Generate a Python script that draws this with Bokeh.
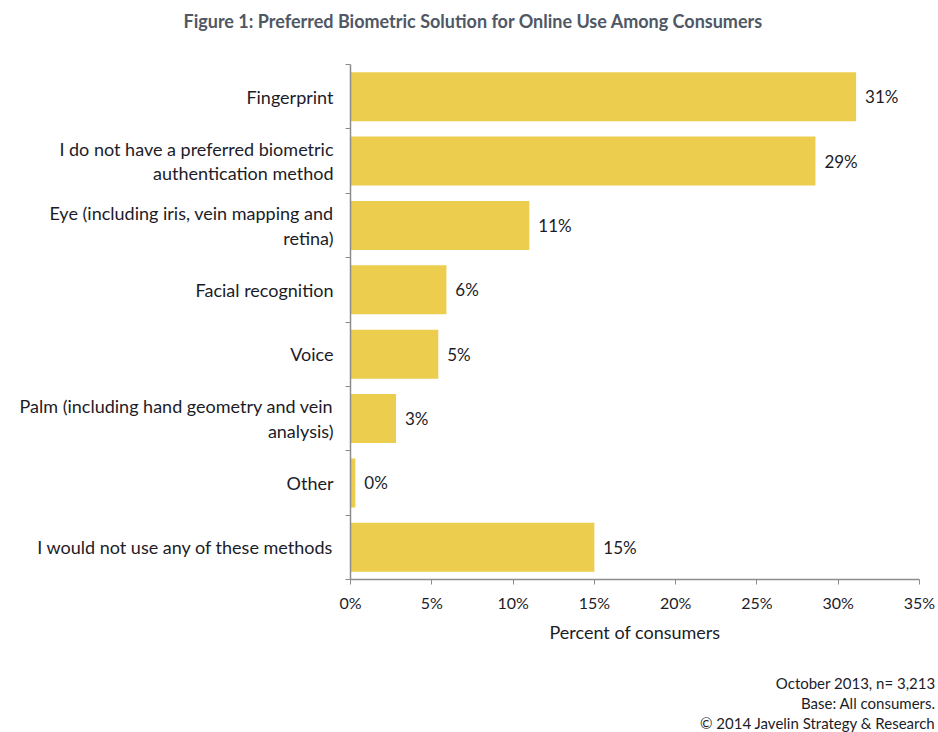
from bokeh.plotting import figure
from bokeh.layouts import column
from bokeh.models import Range1d, FixedTicker, PrintfTickFormatter, ColumnDataSource, Title
from bokeh.core.properties import value
from bokeh.embed import file_html
from bokeh.resources import INLINE

# ---------------- data ----------------
categories = [
    "Fingerprint",
    "I do not have a preferred biometric\nauthentication method",
    "Eye (including iris, vein mapping and\nretina)",
    "Facial recognition",
    "Voice",
    "Palm (including hand geometry and vein\nanalysis)",
    "Other",
    "I would not use any of these methods",
]
values = [31.1, 28.6, 11.0, 5.9, 5.4, 2.8, 0.3, 15.0]
value_labels = ["31%", "29%", "11%", "6%", "5%", "3%", "0%", "15%"]
x_ticks = [0, 5, 10, 15, 20, 25, 30, 35]

title_text = "Figure 1: Preferred Biometric Solution for Online Use Among Consumers"
x_axis_title = "Percent of consumers"
footnotes = ["October 2013, n= 3,213", "Base: All consumers.", "\u00a9 2014 Javelin Strategy & Research"]

# ---------------- layout ----------------
W = 938
TOP_H, MAIN_H, FOOT_H = 64, 583, 85
LEFT, RIGHT, MAIN_BOTTOM = 350, 19, 68
FONT = "Lato"
TXT = "#1c1c28"
BAR = "#ECCD4D"
AXC = "#8c8c8c"
XMAX = 35
N = len(categories)


def strip(height):
    f = figure(width=W, height=height, output_backend="svg", toolbar_location=None,
               x_range=Range1d(0, 1), y_range=Range1d(0, 1),
               x_axis_type=None, y_axis_type=None,
               min_border_left=LEFT, min_border_right=RIGHT,
               min_border_top=0, min_border_bottom=0)
    f.outline_line_color = None
    f.grid.visible = False
    f.background_fill_color = "white"
    f.border_fill_color = "white"
    return f


# ---- title strip ----
top = strip(TOP_H)
top.add_layout(Title(text=title_text, text_font=FONT, text_font_size="18px",
                     text_font_style="bold", text_color="#4f5864",
                     align="left", offset=-167, standoff=16,
                     vertical_align="middle"), "above")

# ---- main chart ----
p = figure(width=W, height=MAIN_H, output_backend="svg", toolbar_location=None,
           x_range=Range1d(0, XMAX), y_range=Range1d(N, 0),
           min_border_left=LEFT, min_border_right=RIGHT,
           min_border_top=0, min_border_bottom=MAIN_BOTTOM)
p.outline_line_color = None
p.xgrid.visible = False
p.ygrid.visible = False
p.background_fill_color = "white"
p.border_fill_color = "white"

ys = [i + 0.5 for i in range(N)]
src = ColumnDataSource(dict(y=ys, v=values, lab=value_labels,
                            lx=[v + 0.55 for v in values]))
p.hbar(y="y", right="v", left=0, height=0.76, source=src,
       fill_color=BAR, line_color=None)
p.text(x="lx", y="y", text="lab", source=src, text_font=value(FONT),
       text_font_size="17px", text_color=TXT, text_baseline="middle",
       text_align="left")

xa = p.xaxis[0]
xa.ticker = FixedTicker(ticks=x_ticks)
xa.formatter = PrintfTickFormatter(format="%d%%")
xa.minor_tick_line_color = None
xa.major_tick_in = 0
xa.major_tick_out = 5
xa.axis_line_color = AXC
xa.axis_line_width = 1.5
xa.major_tick_line_color = AXC
xa.major_label_text_font = FONT
xa.major_label_text_font_size = "16px"
xa.major_label_text_color = TXT
xa.major_label_standoff = 8
xa.axis_label = x_axis_title
xa.axis_label_text_font = FONT
xa.axis_label_text_font_size = "18px"
xa.axis_label_text_font_style = "normal"
xa.axis_label_text_color = TXT
xa.axis_label_standoff = 6

ya = p.yaxis[0]
ya.ticker = FixedTicker(ticks=ys, minor_ticks=list(range(N + 1)))
ya.major_label_overrides = {y: c for y, c in zip(ys, categories)}
ya.major_tick_line_color = None
ya.major_tick_in = 0
ya.major_tick_out = 0
ya.minor_tick_in = 0
ya.minor_tick_out = 5
ya.minor_tick_line_color = AXC
ya.axis_line_color = AXC
ya.axis_line_width = 1.5
ya.major_label_text_font = FONT
ya.major_label_text_font_size = "18px"
ya.major_label_text_color = TXT
ya.major_label_text_line_height = 1.1
ya.major_label_standoff = 12

# ---- footnote strip (right-aligned lines) ----
foot = strip(FOOT_H)
for t in footnotes:
    foot.add_layout(Title(text=t, text_font=FONT, text_font_size="15px",
                          text_font_style="normal", text_color=TXT, text_line_height=1.067,
                          align="right", offset=-16, standoff=0,
                          vertical_align="middle"), "below")

layout = column(top, p, foot, spacing=0)
open("out.html", "w").write(file_html(layout, INLINE))
